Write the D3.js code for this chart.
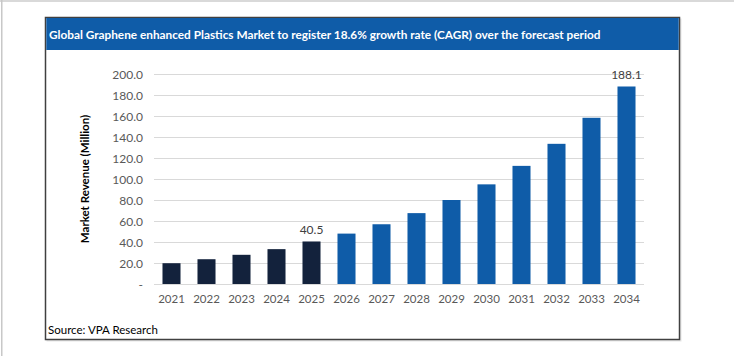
<!DOCTYPE html>
<html><head><meta charset="utf-8">
<script src="https://cdn.jsdelivr.net/npm/d3@7"></script>
<style>html,body{margin:0;padding:0;background:#fff;}svg{display:block;}</style>
</head><body>
<script>
const years = ["2021","2022","2023","2024","2025","2026","2027","2028","2029","2030","2031","2032","2033","2034"];
const revenue = [19.8, 23.6, 27.8, 33.2, 40.5, 48.0, 56.9, 67.5, 80.0, 94.9, 112.5, 133.5, 158.3, 188.1];
const historicYears = ["2021","2022","2023","2024","2025"];
const labeledYears = ["2025","2034"];
const yTicks = [0,20,40,60,80,100,120,140,160,180,200];
const titleText = "Global Graphene enhanced Plastics Market to register 18.6% growth rate (CAGR) over the forecast period";
const yAxisTitle = "Market Revenue (Million)";
const sourceText = "Source: VPA Research";

const W = 734, H = 356;
const font = "Lato, 'Open Sans', sans-serif";
const svg = d3.select("body").append("svg").attr("width", W).attr("height", H);

// page edges
svg.append("rect").attr("x",0).attr("y",0).attr("width",W).attr("height",2).attr("fill","#d9d9d9");
svg.append("rect").attr("x",1).attr("y",0).attr("width",1.5).attr("height",H).attr("fill","#c8c8c8");

// box with shadow
svg.append("rect").attr("x",46.5).attr("y",18.5).attr("width",635).attr("height",323).attr("fill","#e6e6e6");
svg.append("rect").attr("x",45.5).attr("y",17.5).attr("width",634).attr("height",322)
  .attr("fill","#fff").attr("stroke","#404040").attr("stroke-width",1.5);
svg.append("rect").attr("x",46.3).attr("y",18).attr("width",632.4).attr("height",32).attr("fill","#0f5ca8");
svg.append("text").attr("x",49).attr("y",38.5).attr("fill","#fff")
  .attr("font-family",font).attr("font-weight","bold").attr("font-size",11.8)
  .text(titleText);

const x = d3.scaleBand().domain(years).range([154, 644]).paddingInner(0.485).paddingOuter(0.2425);
const y = d3.scaleLinear().domain([0, 200]).range([284, 74]);

const g = svg.append("g");
// gridlines
g.selectAll("line.grid").data(yTicks).join("line").attr("class","grid")
  .attr("x1",154).attr("x2",644).attr("y1",d=>y(d)+0.5).attr("y2",d=>y(d)+0.5)
  .attr("stroke","#d9d9d9").attr("stroke-width",1);

// y tick labels
const yAxis = d3.axisLeft(y).tickValues(yTicks).tickSize(0).tickPadding(0)
  .tickFormat(d => d === 0 ? "-" : d3.format(".1f")(d));
const ya = svg.append("g").attr("transform","translate(143,0)").call(yAxis);
ya.select(".domain").remove();
ya.selectAll("text").attr("font-family",font).attr("font-size",12).attr("fill","#595959").attr("dy","0.35em");

// x tick labels
const xAxis = d3.axisBottom(x).tickSize(0).tickPadding(0);
const xa = svg.append("g").attr("transform","translate(0,295)").call(xAxis);
xa.select(".domain").remove();
xa.selectAll("text").attr("font-family",font).attr("font-size",11.5).attr("fill","#595959").attr("dy","0.71em");

// bars
svg.selectAll("rect.bar").data(years).join("rect").attr("class","bar")
  .attr("x",d=>x(d)).attr("width",x.bandwidth())
  .attr("y",(d,i)=>y(revenue[i])).attr("height",(d,i)=>y(0)-y(revenue[i]))
  .attr("fill",d=>historicYears.includes(d) ? "#13223c" : "#0f5ca8");

// data labels
svg.selectAll("text.lbl").data(years.filter(d=>labeledYears.includes(d))).join("text").attr("class","lbl")
  .attr("x",d=>x(d)+x.bandwidth()/2).attr("y",d=>y(revenue[years.indexOf(d)])-7)
  .attr("text-anchor","middle").attr("font-family",font).attr("font-size",12).attr("fill","#404040")
  .text(d=>revenue[years.indexOf(d)].toFixed(1));

// y axis title
svg.append("text").attr("transform","translate(89,179) rotate(-90)")
  .attr("text-anchor","middle").attr("font-family",font).attr("font-weight","bold")
  .attr("font-size",11.5).attr("fill","#000").text(yAxisTitle);

// source
svg.append("text").attr("x",48).attr("y",334).attr("font-family",font).attr("font-size",11.5)
  .attr("fill","#000").text(sourceText);
</script>
</body></html>
